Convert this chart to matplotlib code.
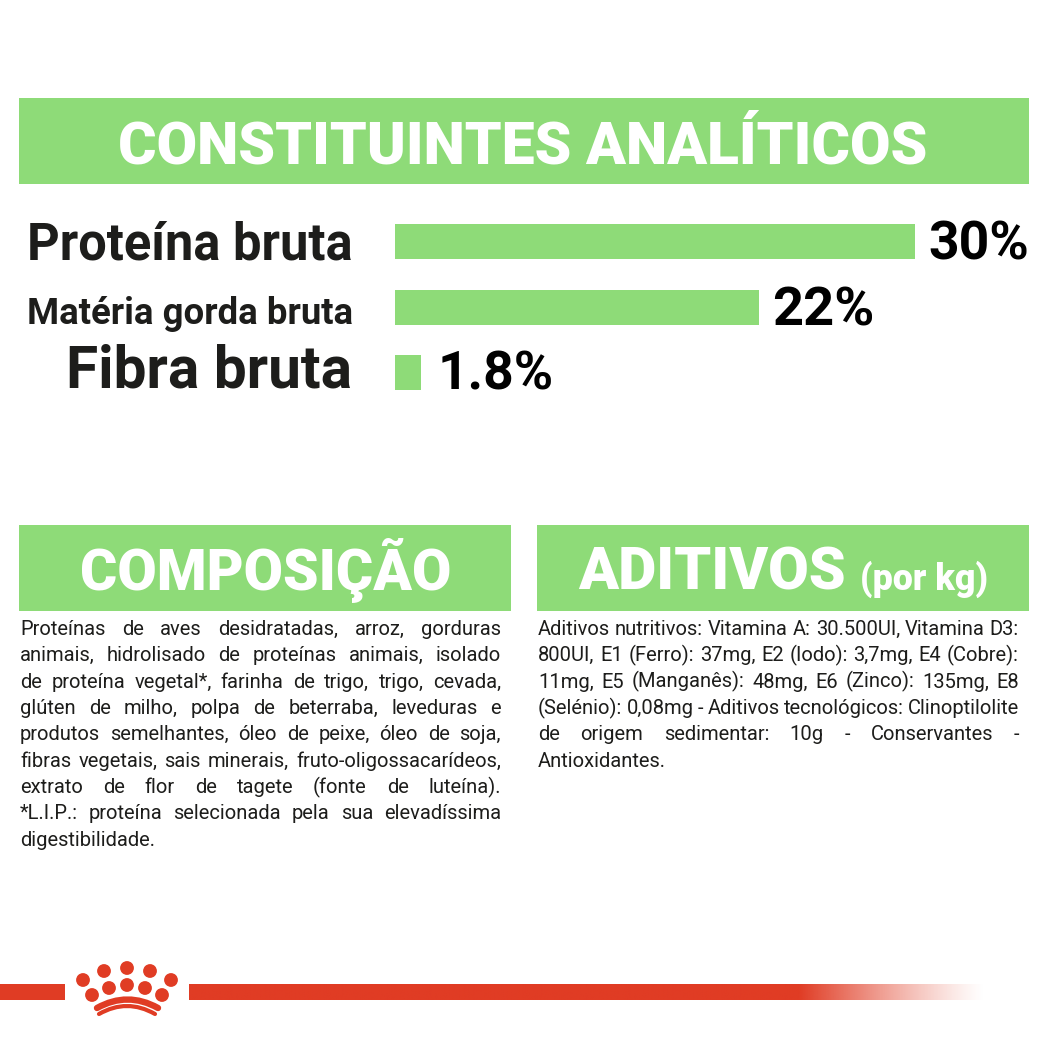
import numpy as np
import matplotlib
matplotlib.use("Agg")
import matplotlib.pyplot as plt
from matplotlib import font_manager as fm
from matplotlib.patches import Rectangle, Circle, PathPatch
from matplotlib.path import Path

W = 1049
GREEN = "#8EDB78"
RED = "#E03C24"
DARK = "#1d1d1b"

categories = ["Proteína bruta", "Matéria gorda bruta", "Fibra bruta"]
bar_lengths = [30, 21, 1.5]
value_labels = ["30%", "22%", "1.8%"]

title_main = "CONSTITUINTES ANALÍTICOS"
title_left = "COMPOSIÇÃO"
title_right = "ADITIVOS"
title_right_unit = "(por kg)"

composition_lines = [
    "Proteínas de aves desidratadas, arroz, gorduras",
    "animais, hidrolisado de proteínas animais, isolado",
    "de proteína vegetal*, farinha de trigo, trigo, cevada,",
    "glúten de milho, polpa de beterraba, leveduras e",
    "produtos semelhantes, óleo de peixe, óleo de soja,",
    "fibras vegetais, sais minerais, fruto-oligossacarídeos,",
    "extrato de flor de tagete (fonte de luteína).",
    "*L.I.P.: proteína selecionada pela sua elevadíssima",
    "digestibilidade.",
]
additives_lines = [
    "Aditivos nutritivos: Vitamina A: 30.500UI, Vitamina D3:",
    "800UI, E1 (Ferro): 37mg, E2 (Iodo): 3,7mg, E4 (Cobre):",
    "11mg, E5 (Manganês): 48mg, E6 (Zinco): 135mg, E8",
    "(Selénio): 0,08mg - Aditivos tecnológicos: Clinoptilolite",
    "de origem sedimentar: 10g - Conservantes -",
    "Antioxidantes.",
]

installed = {f.name for f in fm.fontManager.ttflist}
NARROW = "Liberation Sans Narrow" if "Liberation Sans Narrow" in installed else "Roboto"

fig = plt.figure(figsize=(W / 100, W / 100), dpi=100, facecolor="white")
bg = fig.add_axes([0, 0, 1, 1])
bg.set_xlim(0, W)
bg.set_ylim(W, 0)
bg.axis("off")
renderer = fig.canvas.get_renderer()


def width_of(s, size, weight, family="Roboto"):
    t = bg.text(0, 0, s, fontsize=size, fontweight=weight, family=family)
    w = t.get_window_extent(renderer).width
    t.remove()
    return w


def fit_text(s, x0, x1, y, weight="bold", color="white", family="Roboto"):
    size = 40.0
    size = size * (x1 - x0) / width_of(s, size, weight, family)
    bg.text(x0, y, s, fontsize=size, fontweight=weight, color=color, family=family,
            ha="left", va="baseline")
    return size


def body_line(s, x0, x1, y, size, justify):
    words = s.split(" ")
    if not justify or len(words) == 1:
        bg.text(x0, y, s, fontsize=size, color=DARK, family="Roboto", va="baseline")
        return
    space = width_of("a a", size, "normal") - width_of("aa", size, "normal")
    word_sum = sum(width_of(w, size, "normal") for w in words)
    gap = (x1 - x0 - word_sum) / (len(words) - 1)
    if gap < space * 0.5:
        size *= (x1 - x0) / (word_sum + space * 0.5 * (len(words) - 1))
        word_sum = sum(width_of(w, size, "normal") for w in words)
        gap = (x1 - x0 - word_sum) / (len(words) - 1)
    x = x0
    for w in words:
        bg.text(x, y, w, fontsize=size, color=DARK, family="Roboto", va="baseline")
        x += width_of(w, size, "normal") + gap


# header bands
for (x0, y0, x1, y1) in [(19, 98, 1029, 184), (19, 525, 511, 611), (537, 525, 1029, 611)]:
    bg.add_patch(Rectangle((x0, y0), x1 - x0, y1 - y0, facecolor=GREEN, edgecolor="none"))

fit_text(title_main, 118, 928, 163, weight="black")
fit_text(title_left, 80, 450, 590, weight="black")
fit_text(title_right, 578, 845, 590, weight="black")
fit_text(title_right_unit, 860, 988, 590, weight="black")

# bars through their own axes
ax = fig.add_axes([395 / W, 1 - 400 / W, 520 / W, (400 - 210) / W])
ax.set_xlim(0, 30)
ax.set_ylim(400, 210)
ax.axis("off")
ax.patch.set_alpha(0)
centers = [241.5, 307, 372.5]
ax.barh(centers, bar_lengths, height=35, color=GREEN, linewidth=0)

label_spans = [(27, 352, 260, "Roboto"), (27, 352, 324, NARROW), (66, 352, 388, "Roboto")]
for cat, (x0, x1, base, fam) in zip(categories, label_spans):
    fit_text(cat, x0, x1, base, color=DARK, family=fam)

value_spans = [(928, 1029, 259), (772, 874, 325), (438, 554, 390)]
for lab, (x0, x1, base) in zip(value_labels, value_spans):
    fit_text(lab, x0, x1, base, color="black")

# body text
pitch = 26.35
for i, line in enumerate(composition_lines):
    body_line(line, 20, 501, 635 + i * pitch, 14.5, i < len(composition_lines) - 1)
for i, line in enumerate(additives_lines):
    body_line(line, 538, 1019, 635 + i * pitch, 14.5, i < len(additives_lines) - 1)

# red rule with a fade at the right end
bg.add_patch(Rectangle((0, 984), 65, 16, facecolor=RED, edgecolor="none"))
fade = np.ones((1, 800, 4))
fade[..., :3] = matplotlib.colors.to_rgb(RED)
xs = np.linspace(189, 985, 800)
fade[..., 3] = np.clip((985 - xs) / (985 - 800), 0, 1) ** 1.2
bg.imshow(fade, extent=(189, 985, 1000, 984), aspect="auto", zorder=1)
bg.set_xlim(0, W)
bg.set_ylim(W, 0)

# crown emblem
for (cx, cy) in [(83, 980), (104, 971), (127, 968), (150, 971), (171, 980),
                 (92, 995), (109, 988), (127, 985), (145, 988), (162, 995)]:
    bg.add_patch(Circle((cx, cy), 6.9, facecolor=RED, edgecolor="none"))
for (x0, x1, ye, yc, lw) in [(97, 158, 1008, 991, 4.6), (99, 155, 1014, 998, 3.0)]:
    p = Path([(x0, ye), ((x0 + x1) / 2, yc), (x1, ye)], [Path.MOVETO, Path.CURVE3, Path.CURVE3])
    bg.add_patch(PathPatch(p, facecolor="none", edgecolor=RED, lw=lw, capstyle="round"))

fig.savefig("out.png", dpi=100, facecolor="white")
